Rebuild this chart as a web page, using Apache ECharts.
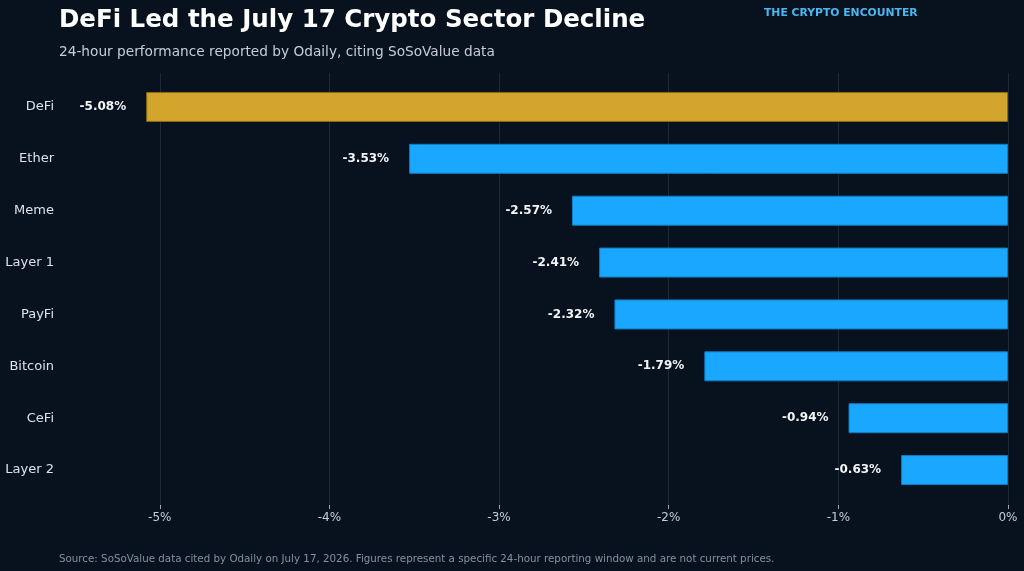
<!DOCTYPE html>
<html>
<head>
<meta charset="utf-8">
<script src="https://cdn.jsdelivr.net/npm/echarts@6/dist/echarts.min.js"></script>
<style>
  html, body { margin: 0; padding: 0; background: #08121f; }
  #chart { width: 1024px; height: 571px; }
</style>
</head>
<body>
<div id="chart"></div>
<script>
// sectors, top to bottom
const sectors = ["DeFi", "Ether", "Meme", "Layer 1", "PayFi", "Bitcoin", "CeFi", "Layer 2"];
const changes = [-5.08, -3.53, -2.57, -2.41, -2.32, -1.79, -0.94, -0.63];
const xTicks = [-5, -4, -3, -2, -1, 0];

const X_MIN = -5.588;
const X_MAX = 0;

const barColor = (i) => (i === 0 ? "#d4a52c" : "#1aa7ff");
const edgeColor = (i) => (i === 0 ? "#8a6a1a" : "#0f7dc2");

const chart = echarts.init(document.getElementById("chart"));

chart.setOption({
  backgroundColor: "#08121f",
  animation: false,
  textStyle: { fontFamily: "DejaVu Sans" },
  title: [
    {
      text: "DeFi Led the July 17 Crypto Sector Decline",
      left: 54, top: 3,
      textStyle: { color: "#ffffff", fontSize: 24.5, fontWeight: "bold", fontFamily: "DejaVu Sans" }
    },
    {
      text: "24-hour performance reported by Odaily, citing SoSoValue data",
      left: 54, top: 40,
      textStyle: { color: "#c5cdd6", fontSize: 13.7, fontWeight: "normal", fontFamily: "DejaVu Sans" }
    },
    {
      text: "THE CRYPTO ENCOUNTER",
      left: 759, top: 3,
      textStyle: { color: "#4cb6ee", fontSize: 10.8, fontWeight: "bold", fontFamily: "DejaVu Sans" }
    },
    {
      text: "Source: SoSoValue data cited by Odaily on July 17, 2026. Figures represent a specific 24-hour reporting window and are not current prices.",
      left: 54, top: 549,
      textStyle: { color: "#8391a3", fontSize: 10.3, fontWeight: "normal", fontFamily: "DejaVu Sans" }
    }
  ],
  grid: [
    // frame: vertical grid lines and x ticks
    { left: 60, right: 16, top: 73, bottom: 66 },
    // bars
    { left: 60, right: 16, top: 81, bottom: 75 }
  ],
  xAxis: [
    {
      gridIndex: 0, type: "value", min: X_MIN, max: X_MAX,
      axisLine: { show: false },
      axisTick: { show: true, length: 4, lineStyle: { color: "#9aa6b4" }, customValues: xTicks },
      axisLabel: {
        color: "#c5cdd6", fontSize: 12, margin: 7,
        customValues: xTicks,
        formatter: (v) => v + "%"
      },
      splitLine: { show: true, lineStyle: { color: "#1c2836", width: 1 } },
      interval: 1
    },
    {
      gridIndex: 1, type: "value", min: X_MIN, max: X_MAX,
      show: false, splitLine: { show: false }
    }
  ],
  yAxis: [
    { gridIndex: 0, type: "value", show: false, splitLine: { show: false } },
    {
      gridIndex: 1, type: "category", data: sectors, inverse: true,
      axisLine: { show: false },
      axisTick: { show: false },
      axisLabel: { color: "#dde2e8", fontSize: 13, margin: 6 }
    }
  ],
  series: [
    {
      type: "bar",
      xAxisIndex: 1, yAxisIndex: 1,
      barWidth: 30,
      data: changes.map((v, i) => ({
        value: v,
        itemStyle: { color: barColor(i), borderColor: edgeColor(i), borderWidth: 1 }
      })),
      label: {
        show: true, position: "left", distance: 20,
        color: "#f2f4f6", fontSize: 12, fontWeight: "bold",
        formatter: (p) => p.value.toFixed(2) + "%"
      }
    }
  ]
});
</script>
</body>
</html>
